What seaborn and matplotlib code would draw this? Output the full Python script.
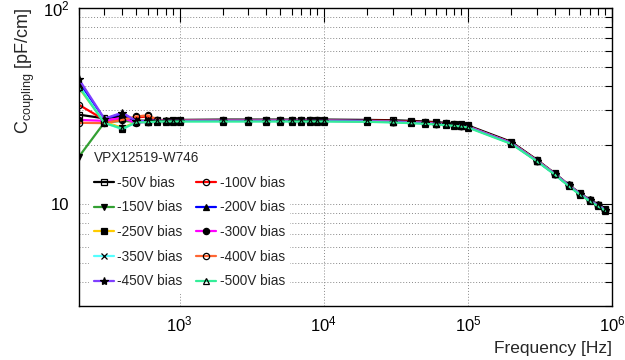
import seaborn as sns
import matplotlib.pyplot as plt
from matplotlib.ticker import FixedLocator, FixedFormatter, LogLocator, NullFormatter

# frequency points [Hz]
freq = [200, 300, 400, 500, 600, 700, 800, 900,
        1e3, 2e3, 3e3, 4e3, 5e3, 6e3, 7e3, 8e3, 9e3,
        1e4, 2e4, 3e4, 4e4, 5e4, 6e4, 7e4, 8e4, 9e4,
        1e5, 2e5, 3e5, 4e5, 5e5, 6e5, 7e5, 8e5, 9e5]

bias_labels = ['-50V bias', '-100V bias', '-150V bias', '-200V bias', '-250V bias',
               '-300V bias', '-350V bias', '-400V bias', '-450V bias', '-500V bias']

# coupling capacitance [pF/cm]
c_50 = [28.5, 27.3, 28.0, 26.6, 26.5, 26.8, 26.6, 26.7,
        26.8, 26.9, 26.9, 26.9, 26.9, 26.9, 26.9, 26.9, 26.9,
        26.9, 26.8, 26.7, 26.5, 26.3, 26.1, 25.9, 25.6, 25.4,
        25.1, 20.7, 16.8, 14.3, 12.5, 11.3, 10.5, 9.9, 9.4]
c_100 = [32.0, 26.8, 27.0, 27.6, 27.9, 26.7, 26.6, 26.6,
         26.6, 26.7, 26.7, 26.7, 26.7, 26.7, 26.7, 26.7, 26.7,
         26.7, 26.6, 26.5, 26.3, 26.1, 25.9, 25.7, 25.4, 25.2,
         24.9, 20.5, 16.7, 14.2, 12.4, 11.2, 10.4, 9.8, 9.3]
c_150 = [17.4, 26.0, 26.5, 26.2, 26.4, 26.5, 26.4, 26.5,
         26.5, 26.6, 26.6, 26.6, 26.6, 26.6, 26.6, 26.6, 26.6,
         26.6, 26.5, 26.3, 26.1, 25.9, 25.7, 25.5, 25.3, 25.1,
         24.8, 20.4, 16.6, 14.2, 12.4, 11.2, 10.4, 9.8, 9.3]
c_200 = [42.0, 27.0, 29.0, 26.3, 26.5, 26.6, 26.5, 26.5,
         26.5, 26.6, 26.6, 26.6, 26.6, 26.6, 26.6, 26.6, 26.6,
         26.6, 26.5, 26.3, 26.1, 25.9, 25.7, 25.5, 25.3, 25.1,
         24.8, 20.4, 16.6, 14.2, 12.4, 11.2, 10.4, 9.8, 9.3]
c_250 = [39.0, 26.2, 24.4, 26.2, 26.3, 26.5, 26.4, 26.5,
         26.5, 26.5, 26.5, 26.5, 26.5, 26.5, 26.5, 26.5, 26.5,
         26.5, 26.4, 26.2, 26.0, 25.8, 25.6, 25.4, 25.2, 25.0,
         24.7, 20.4, 16.6, 14.2, 12.4, 11.2, 10.4, 9.8, 9.3]
c_300 = [26.8, 26.5, 27.5, 25.8, 26.3, 26.4, 26.5, 26.5,
         26.5, 26.5, 26.5, 26.5, 26.5, 26.5, 26.5, 26.5, 26.5,
         26.5, 26.4, 26.2, 26.0, 25.8, 25.6, 25.4, 25.2, 25.0,
         24.7, 20.4, 16.6, 14.2, 12.4, 11.2, 10.4, 9.8, 9.3]
c_350 = [40.0, 26.0, 24.0, 26.1, 26.2, 26.4, 26.4, 26.4,
         26.4, 26.4, 26.4, 26.4, 26.4, 26.4, 26.4, 26.4, 26.4,
         26.4, 26.3, 26.1, 25.9, 25.7, 25.5, 25.3, 25.1, 24.9,
         24.6, 20.3, 16.5, 14.1, 12.4, 11.2, 10.4, 9.8, 9.3]
c_400 = [25.9, 25.8, 26.8, 27.9, 28.3, 26.9, 26.5, 26.6,
         26.5, 26.5, 26.5, 26.5, 26.5, 26.5, 26.5, 26.5, 26.5,
         26.5, 26.4, 26.2, 26.0, 25.8, 25.6, 25.4, 25.2, 25.0,
         24.7, 20.4, 16.6, 14.2, 12.4, 11.2, 10.4, 9.8, 9.3]
c_450 = [43.2, 27.2, 29.2, 26.4, 26.4, 26.6, 26.5, 26.5,
         26.5, 26.5, 26.5, 26.5, 26.5, 26.5, 26.5, 26.5, 26.5,
         26.5, 26.4, 26.2, 26.0, 25.8, 25.6, 25.4, 25.2, 25.0,
         24.7, 20.4, 16.6, 14.2, 12.4, 11.2, 10.4, 9.8, 9.3]
c_500 = [39.5, 25.8, 24.2, 26.0, 26.1, 26.3, 26.3, 26.3,
         26.3, 26.3, 26.3, 26.3, 26.3, 26.3, 26.3, 26.3, 26.3,
         26.3, 26.2, 26.0, 25.8, 25.6, 25.4, 25.2, 25.0, 24.8,
         24.5, 20.2, 16.5, 14.1, 12.3, 11.1, 10.3, 9.7, 9.2]

series = [c_50, c_100, c_150, c_200, c_250, c_300, c_350, c_400, c_450, c_500]

line_colors = ['#000000', '#ff0000', '#33a033', '#0000ff', '#ffcc00',
               '#ff00ff', '#55ffff', '#ff6633', '#7f3fff', '#33ee99']
marker_styles = ['s', 'o', 'v', '^', 's', 'o', 'x', 'o', '*', '^']
marker_open = [True, True, False, False, False, False, False, True, False, True]

sns.set_style('white')
plt.rcParams['font.family'] = ['Liberation Sans', 'DejaVu Sans']
plt.rcParams['mathtext.fontset'] = 'custom'
plt.rcParams['mathtext.rm'] = 'Liberation Sans'
plt.rcParams['mathtext.it'] = 'Liberation Sans:italic'

fig = plt.figure(figsize=(6.25, 3.6), dpi=100)
ax = fig.add_axes([79 / 625, 54 / 360, 533 / 625, 298 / 360])

for vals, lab, col, mk, op in zip(series, bias_labels, line_colors, marker_styles, marker_open):
    sns.lineplot(x=freq, y=vals, ax=ax, color=col, label=lab, linewidth=1.6,
                 marker=mk, markersize=4.5 if mk != '*' else 6,
                 markerfacecolor='none' if op else 'black',
                 markeredgecolor='black', markeredgewidth=0.9,
                 estimator=None, sort=False)

ax.set_xscale('log')
ax.set_yscale('log')
ax.set_xlim(200, 1e6)
ax.set_ylim(3, 100)

ax.xaxis.set_major_locator(LogLocator(base=10))
ax.xaxis.set_minor_locator(LogLocator(base=10, subs=range(2, 10)))
ax.xaxis.set_minor_formatter(NullFormatter())
ax.yaxis.set_major_locator(FixedLocator([10, 100]))
ax.yaxis.set_major_formatter(FixedFormatter(['10', r'$10^{2}$']))
ax.yaxis.set_minor_locator(LogLocator(base=10, subs=range(2, 10)))
ax.yaxis.set_minor_formatter(NullFormatter())

ax.tick_params(which='both', direction='in', top=True, right=True, labelsize=12, colors='black')
ax.tick_params(which='major', length=10, width=0.8)
ax.tick_params(which='minor', length=5, width=0.8)
ax.tick_params(axis='x', which='major', pad=6)
ax.tick_params(axis='y', which='major', pad=7)

ax.grid(True, axis='x', which='major', linestyle=(0, (1, 2)), color='#888888', linewidth=0.7)
ax.grid(True, axis='y', which='both', linestyle=(0, (1, 2)), color='#888888', linewidth=0.7)
for s in ax.spines.values():
    s.set_color('black')
    s.set_linewidth(1.0)

ax.set_xlabel('Frequency [Hz]', loc='right', fontsize=12.5, labelpad=5)
ax.set_ylabel(r'C$_{\rm coupling}$ [pF/cm]', loc='top', fontsize=13, labelpad=4)

# row-wise legend order like the reference (two columns)
handles, labels = ax.get_legend_handles_labels()
order = [0, 2, 4, 6, 8, 1, 3, 5, 7, 9]
leg = ax.legend([handles[i] for i in order], [labels[i] for i in order],
                loc='upper left', bbox_to_anchor=(82 / 625, 1 - 139 / 360),
                bbox_transform=fig.transFigure, ncol=2, title='VPX12519-W746',
                alignment='left', fontsize=9.8, title_fontsize=9.8,
                frameon=True, fancybox=False, edgecolor='none', facecolor='white',
                framealpha=1, handlelength=1.45, handletextpad=0.25,
                columnspacing=1.0, labelspacing=0.78, borderpad=0.4)

fig.savefig('out.png', dpi=100)
